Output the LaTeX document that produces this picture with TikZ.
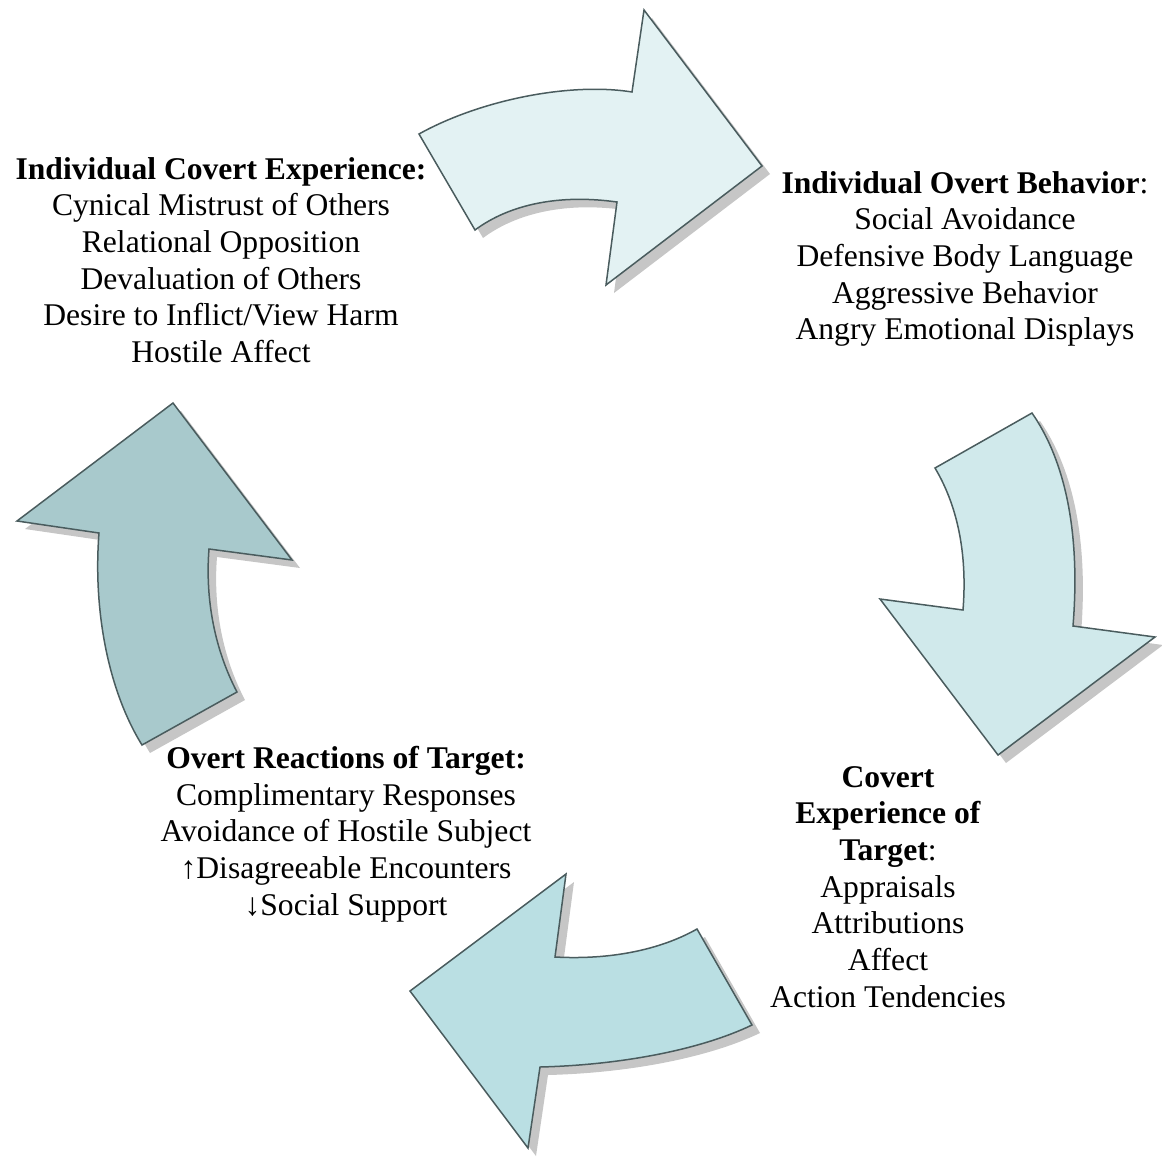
\documentclass[tikz,border=0pt]{standalone}
\usepackage{fontspec}
\setmainfont{Liberation Serif}
\definecolor{edgeslate}{HTML}{4A5C5E}
\definecolor{shadowgray}{HTML}{C6C6C6}
\definecolor{fillone}{HTML}{E3F2F3}
\definecolor{filltwo}{HTML}{D0E9EB}
\definecolor{fillthree}{HTML}{BADFE3}
\definecolor{fillfour}{HTML}{A8C9CC}

\begin{document}
\begin{tikzpicture}[x=1pt,y=-1pt,
   bent/.style={draw=edgeslate,line width=1.5pt,line join=miter,
      preaction={fill=shadowgray,draw=none,transform canvas={shift={(8,8)}}}},
   block/.style={align=center,anchor=north,inner sep=0pt,
      font=\fontsize{31.6}{36.7}\selectfont}]
   \useasboundingbox (0,0) rectangle (1162,1157);

   \path[bent,fill=fillone] (419,134) .. controls (480,100) and (570,82) .. (632,92)
      -- (644,10) -- (762,166) -- (606,285) -- (617,202)
      .. controls (560,194) and (510,204) .. (475,230) -- cycle;
   \path[bent,fill=filltwo] (935,468) -- (1032,413)
      .. controls (1068,465) and (1080,540) .. (1073,626)
      -- (1155,637) -- (998,755) -- (880,599) -- (963,610)
      .. controls (967,560) and (960,510) .. (935,468) -- cycle;
   \path[bent,fill=fillthree] (697,929) -- (752,1025)
      .. controls (700,1050) and (620,1065) .. (540,1067)
      -- (528,1148) -- (410,991) -- (566,874) -- (555,957)
      .. controls (610,960) and (660,950) .. (697,929) -- cycle;
   \path[bent,fill=fillfour] (173,403) -- (292,560) -- (209,549)
      .. controls (205,600) and (215,650) .. (237,692)
      -- (142,745) .. controls (108,690) and (93,610) .. (99,533)
      -- (17,521) -- cycle;

   \node[block] (covertexp) at (221,157)
      {\textbf{Individual Covert Experience:}\\Cynical Mistrust of Others\\Relational Opposition\\
       Devaluation of Others\\Desire to Inflict/View Harm\\Hostile Affect};
   \node[block] (overtbeh) at (965,171)
      {\textbf{Individual Overt Behavior}:\\Social Avoidance\\Defensive Body Language\\
       Aggressive Behavior\\Angry Emotional Displays};
   \node[block] (targetexp) at (888,766)
      {\textbf{Covert}\\\textbf{Experience of}\\\textbf{Target}:\\Appraisals\\Attributions\\
       Affect\\Action Tendencies};
   \node[block] (targetreact) at (346,746)
      {\textbf{Overt Reactions of Target:}\\Complimentary Responses\\Avoidance of Hostile Subject\\
       ↑Disagreeable Encounters\\↓Social Support};
\end{tikzpicture}
\end{document}
